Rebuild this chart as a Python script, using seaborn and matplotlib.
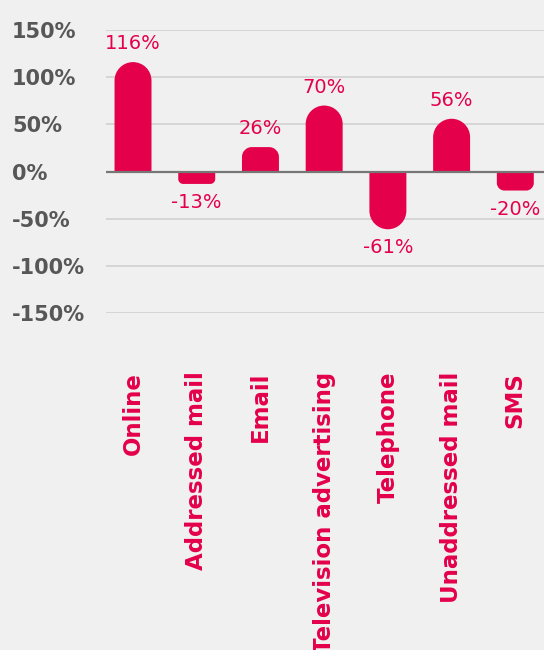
import matplotlib
matplotlib.use("Agg")
import matplotlib.pyplot as plt
from matplotlib.path import Path
from matplotlib.patches import PathPatch
import seaborn as sns
import pandas as pd
import numpy as np

channels = ["Online", "Addressed mail", "Email", "Television advertising",
            "Telephone", "Unaddressed mail", "SMS"]
change_pct = [116, -13, 26, 70, -61, 56, -20]
y_ticks = [150, 100, 50, 0, -50, -100, -150]

BAR = "#e4004b"
GREY_TXT = "#575757"
BG = "#f0f0f0"

sns.set_theme(style="white")
plt.rcParams["font.family"] = ["DejaVu Sans"]

df = pd.DataFrame({"channel": channels, "change": change_pct})

fig = plt.figure(figsize=(5.44, 6.5), dpi=100, facecolor=BG)
ax = fig.add_axes([106 / 544, (650 - 313.3) / 650, (544 - 106) / 544, (313.3 - 30) / 650])
ax.set_facecolor(BG)

sns.barplot(data=df, x="channel", y="change", color=BAR, width=0.58,
            saturation=1, ax=ax, zorder=3)

ax.set_xlim(-0.424, 6.45)
ax.set_ylim(-150, 150)

# gridlines and zero baseline
for t in y_ticks:
    if t == 0:
        continue
    ax.axhline(t, color="#cfcfcf", lw=1.1, zorder=1)
ax.axhline(0, color="#777777", lw=1.6, zorder=4)

for s in ax.spines.values():
    s.set_visible(False)

# replace rectangles with bars rounded at the far end
fig.canvas.draw()
p0 = ax.transData.transform((0, 0))
p1 = ax.transData.transform((1, 1))
px_x = p1[0] - p0[0]
px_y = p1[1] - p0[1]
K = 0.5523

for patch in list(ax.patches):
    x0 = patch.get_x()
    w = patch.get_width()
    h = patch.get_height()
    patch.set_visible(False)
    w_px = w * px_x
    h_px = abs(h) * px_y
    r_px = min(w_px / 2, h_px * 0.4)
    rx = r_px / px_x
    ry = r_px / px_y
    s = np.sign(h)
    yb = h - s * ry
    verts = [
        (x0, 0), (x0, yb),
        (x0, yb + s * K * ry), (x0 + rx - K * rx, h), (x0 + rx, h),
        (x0 + w - rx, h),
        (x0 + w - rx + K * rx, h), (x0 + w, yb + s * K * ry), (x0 + w, yb),
        (x0 + w, 0), (x0, 0),
    ]
    codes = [Path.MOVETO, Path.LINETO,
             Path.CURVE4, Path.CURVE4, Path.CURVE4,
             Path.LINETO,
             Path.CURVE4, Path.CURVE4, Path.CURVE4,
             Path.LINETO, Path.CLOSEPOLY]
    ax.add_patch(PathPatch(Path(verts, codes), facecolor=BAR,
                           edgecolor="none", zorder=3))

# value labels
for i, v in enumerate(change_pct):
    off = 6.5 if v >= 0 else -6.5
    ax.annotate(f"{v}%", (i, v), xytext=(0, off), textcoords="offset points",
                ha="center", va="bottom" if v >= 0 else "top",
                color=BAR, fontsize=14, zorder=5)

ax.set_yticks(y_ticks)
ax.set_yticklabels([f"{t}%" for t in y_ticks])
ax.tick_params(axis="y", length=0, pad=67.7, labelsize=15, labelcolor=GREY_TXT)
for lab in ax.get_yticklabels():
    lab.set_ha("left")
    lab.set_fontweight("bold")

ax.set_xticks(range(len(channels)))
ax.set_xticklabels(channels, rotation=90, va="top", ha="center")
ax.tick_params(axis="x", length=0, pad=42, labelsize=16.5, labelcolor=BAR)
for lab in ax.get_xticklabels():
    lab.set_fontweight("bold")

ax.set_xlabel("")
ax.set_ylabel("")

fig.savefig("out.png", dpi=100, facecolor=BG)
